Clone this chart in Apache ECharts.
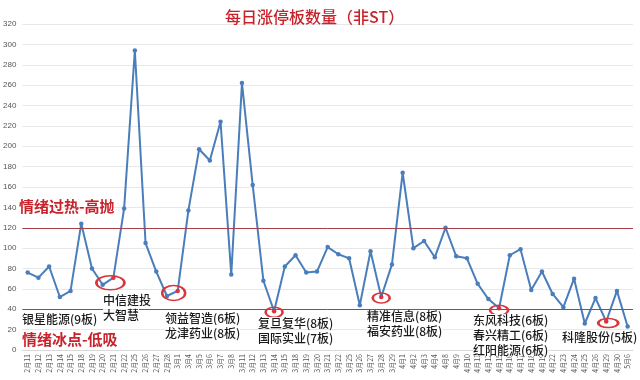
<!DOCTYPE html>
<html>
<head>
<meta charset="utf-8">
<script src="https://cdn.jsdelivr.net/npm/echarts@6/dist/echarts.min.js"></script>
<style>html,body{margin:0;padding:0;background:#fff}#c{width:640px;height:380px}</style>
</head>
<body>
<div id="c"></div>
<script>
var titleText = '每日涨停板数量（非ST）';
var dates = ['2月11','2月12','2月13','2月14','2月15','2月18','2月19','2月20','2月21','2月22','2月25','2月26','2月27','2月28',
  '3月1','3月4','3月5','3月6','3月7','3月8','3月11','3月12','3月13','3月14','3月15','3月18','3月19','3月20','3月21','3月22','3月25','3月26','3月27','3月28','3月29',
  '4月1','4月2','4月3','4月4','4月8','4月9','4月10','4月11','4月12','4月15','4月16','4月17','4月18','4月19','4月22','4月23','4月24','4月25','4月26','4月29','4月30','5月6'];
var counts = [76,71,82,52,58,124,80,64,71,139,294,105,77,53,58,137,197,186,224,74,262,162,68,38,82,93,76,77,101,94,90,44,97,52,84,174,100,107,91,120,92,90,65,50,41,93,99,59,77,55,42,70,26,51,28,58,23];
var highlightDates = ['2月21','3月1','3月14','3月28','4月15','4月29'];
var thresholds = [120, 40];
var yTicks = [0,20,40,60,80,100,120,140,160,180,200,220,240,260,280,300,320];
// ellipse markers: [date, value]
var circleCoords = [['2月21',66],['3月1',56],['3月14',37],['3月28',51],['4月15',39],['4月29',26.5]];
var circleSizes = [[28,14],[23,15],[17,10],[17,10],[18,10],[20,9]];
var circleOffsets = [[-3,0],[-4,0],[0,0],[0,0],[0,0],[2,0]];
var notes = [
  ['银星能源(9板)', 22, 320],
  ['中信建投', 103, 301],
  ['大智慧', 103, 316],
  ['领益智造(6板)', 165, 319],
  ['龙津药业(8板)', 165, 334],
  ['复旦复华(8板)', 258, 324],
  ['国际实业(7板)', 258, 339],
  ['精准信息(8板)', 367, 317],
  ['福安药业(8板)', 367, 332],
  ['东风科技(6板)', 473, 321],
  ['春兴精工(6板)', 473, 336],
  ['红阳能源(6板)', 473, 351],
  ['科隆股份(5板)', 562, 338]
];
var zoneLabels = [['情绪过热-高抛', 19, 208], ['情绪冰点-低吸', 22, 341]];

var red = '#c8232b';
var blue = '#4a7ebb';
var seriesData = counts.map(function (v, i) {
  if (highlightDates.indexOf(dates[i]) >= 0) {
    return { value: v, itemStyle: { color: '#e0303a' } };
  }
  return v;
});

var graphics = [];
notes.forEach(function (n) {
  graphics.push({
    type: 'text', left: n[1], top: n[2] - 7, z: 100,
    style: { text: n[0], fill: '#1a1a1a', font: '500 12px "Noto Sans CJK SC"', backgroundColor: 'rgba(255,255,255,0.9)' }
  });
});
zoneLabels.forEach(function (n) {
  graphics.push({
    type: 'text', left: n[1], top: n[2] - 9, z: 100,
    style: { text: n[0], fill: red, font: 'bold 15px "Noto Sans CJK SC"' }
  });
});

var chart = echarts.init(document.getElementById('c'), null, { renderer: 'canvas' });
chart.setOption({
  animation: false,
  backgroundColor: '#fff',
  title: {
    text: titleText, left: 220, top: 4,
    textStyle: { color: red, fontSize: 16, fontWeight: 500, fontFamily: '"Noto Sans CJK SC"' }
  },
  grid: { left: 22, right: 7, top: 24, bottom: 30, containLabel: false },
  xAxis: {
    type: 'category', data: dates, boundaryGap: true,
    axisLine: { show: true, lineStyle: { color: '#d9d9d9' } },
    axisTick: { show: false },
    axisLabel: { rotate: 90, interval: 0, fontSize: 7, color: '#555', margin: 4, fontFamily: '"Noto Sans CJK SC"' }
  },
  yAxis: {
    type: 'value', min: yTicks[0], max: yTicks[yTicks.length - 1], interval: yTicks[1] - yTicks[0],
    axisLine: { show: false }, axisTick: { show: false },
    axisLabel: { fontSize: 8, color: '#555', margin: 6 },
    splitLine: { lineStyle: { color: '#e8e8e8' } }
  },
  series: [{
    type: 'line', data: seriesData,
    symbol: 'circle', symbolSize: 4.5, showAllSymbol: true,
    lineStyle: { color: blue, width: 2 },
    itemStyle: { color: blue },
    markLine: {
      silent: true, symbol: ['none', 'none'], label: { show: false },
      lineStyle: { color: '#a8404c', width: 1, type: 'solid' },
      data: thresholds.map(function (t) { return { yAxis: t }; })
    },
    markPoint: {
      silent: true,
      data: circleCoords.map(function (c, i) {
        return {
          coord: c,
          symbol: 'path://M0,5A10,5,0,1,1,20,5A10,5,0,1,1,0,5Z',
          symbolSize: circleSizes[i],
          symbolOffset: circleOffsets[i],
          itemStyle: { color: 'rgba(0,0,0,0)', borderColor: '#d9363e', borderWidth: 2 },
          label: { show: false }
        };
      })
    }
  }],
  graphic: graphics
});
</script>
</body>
</html>
